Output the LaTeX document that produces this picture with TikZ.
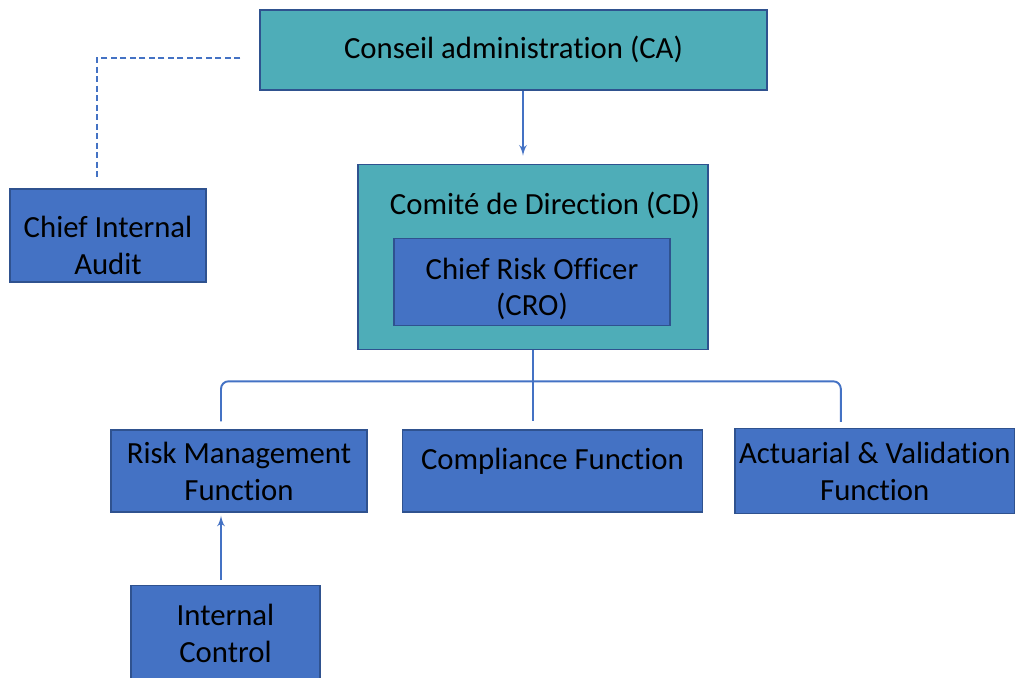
\documentclass[tikz,border=0pt]{standalone}
\usepackage{fontspec}
\setmainfont{Carlito}[Ligatures={NoCommon}]
\usepackage{tikz}
\usetikzlibrary{positioning,shapes,arrows,backgrounds,calc}
\definecolor{boxblue}{HTML}{4472C4}
\definecolor{boxteal}{HTML}{4EADB8}
\definecolor{boxedge}{HTML}{2F528F}
\definecolor{linkblue}{HTML}{4472C4}
\tikzstyle{bluebox} = [rectangle, draw=boxedge, line width=0.8pt, fill=boxblue, %
   text centered, align=center, inner sep=0pt]
\tikzstyle{tealbox} = [rectangle, draw=boxedge, line width=0.8pt, fill=boxteal, %
   text centered, align=center, inner sep=0pt]
\tikzstyle{boxtext} = [align=center, inner sep=0pt]
\tikzstyle{line} = [draw, linkblue, line width=1.1pt, -latex']
\tikzstyle{link} = [draw, linkblue, line width=1.1pt, rounded corners=0.15cm]
\tikzstyle{dashlink} = [draw, linkblue, line width=0.9pt, dash pattern=on 0.12cm off 0.07cm]

\begin{document}
\begin{tikzpicture}[font=\fontsize{17.5}{21}\selectfont]
         \useasboundingbox (0,0) rectangle (20.3,-13.54);
         \clip (0,0) rectangle (20.3,-13.54);

      % TOP OF THE CHART %%%%%%%%%%%%%%%%%%%%%%%%%%%%%%%%%%%%%%%%%%%%%%
         \node[tealbox, minimum width=10.14cm, minimum height=1.6cm, text depth=0.12cm](ca) at (10.27,-1.0){%
            Conseil administration (CA)};

         \node[tealbox, minimum width=7.0cm, minimum height=3.7cm, below=1.46cm of ca.south, %
            anchor=north, xshift=0.39cm](cd){};
         \node[anchor=north, xshift=0.24cm, yshift=-0.44cm](cdtitle) at (cd.north){%
            Comité de Direction (CD)};
         \node[bluebox, minimum width=5.52cm, minimum height=1.74cm, below=1.48cm of cd.north, %
            anchor=north, xshift=-0.02cm, %
            label={[boxtext, yshift=-0.14cm]center:Chief Risk Officer\\(CRO)}](cro){};

         \node[bluebox, minimum width=3.92cm, minimum height=1.86cm, %
            label={[boxtext, yshift=-0.2cm]center:Chief Internal\\Audit}](cia) at (2.16,-4.71){};

      % FUNCTIONS %%%%%%%%%%%%%%%%%%%%%%%%%%%%%%%%%%%%%%%%%%%%%%%%%%%%%
         \node[bluebox, minimum width=5.12cm, minimum height=1.64cm](rmf) at (4.78,-9.42){%
            Risk Management\\Function};
         \node[bluebox, minimum width=6.0cm, minimum height=1.64cm, text depth=0.5cm, %
            right=0.68cm of rmf](cf){Compliance Function};
         \node[bluebox, minimum width=5.6cm, minimum height=1.7cm, right=0.62cm of cf](avf){%
            Actuarial \& Validation\\Function};
         \node[bluebox, minimum width=3.78cm, minimum height=1.9cm, anchor=north](ic) at (4.51,-11.7){%
            Internal\\Control};

         \coordinate (dashstart) at ($(ca.west)+(-0.38,-0.16)$);
         \coordinate (dashend) at ($(cia.north)+(-0.22,0.22)$);
         \coordinate (brleft) at ($(rmf.north)+(-0.36,0.16)$);
         \coordinate (brright) at ($(avf.north)+(-0.68,0.12)$);
         \coordinate (icup) at ($(ic.north)+(-0.09,0.1)$);

         % Draw edges
         \path [line] ([xshift=0.19cm]ca.south) -- ([xshift=-0.2cm,yshift=0.16cm]cd.north);
         \path [dashlink] (dashstart) -| (dashend);
         \path [link] (brleft) -- ++(0,0.8) -| (brright);
         \path [link] (cd.south) -- (cd.south |- brleft);
         \path [line] (icup) -- ($(icup |- rmf.south)+(0,-0.06)$);

      \end{tikzpicture}
\end{document}
